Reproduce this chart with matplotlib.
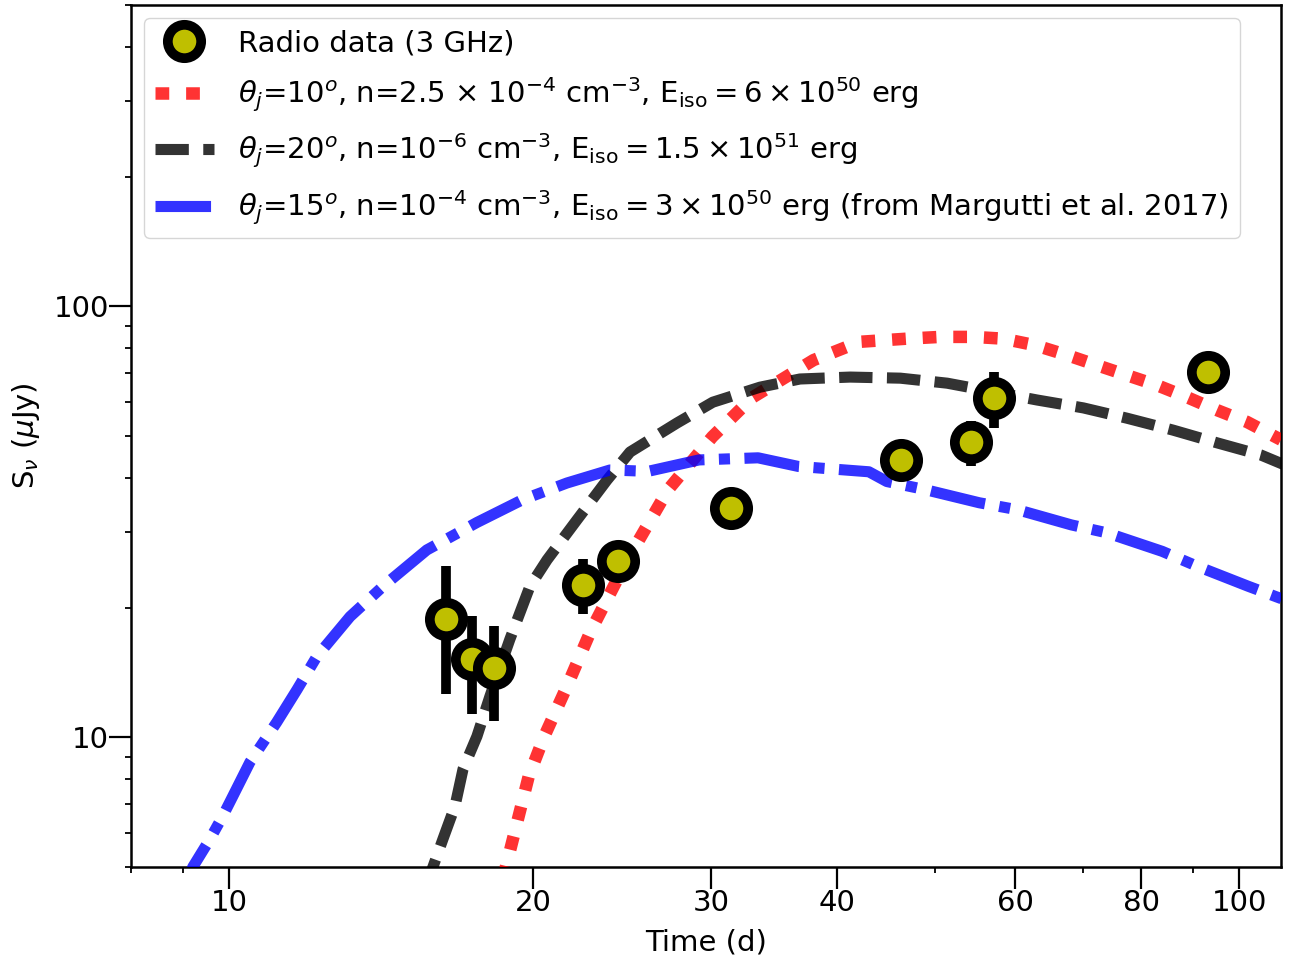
import matplotlib
matplotlib.use("Agg")
import matplotlib.pyplot as plt
from matplotlib.ticker import NullFormatter, FixedLocator, FixedFormatter

# ---------------- data ----------------
t_obs = [16.4, 17.4, 18.3, 22.4, 24.3, 31.4, 46.3, 54.3, 57.2, 93.1]
f_obs = [18.8, 15.2, 14.5, 22.6, 25.7, 34.1, 44.0, 48.4, 61.3, 70.3]
f_err = [6.2, 3.9, 3.6, 3.3, 2.0, 2.5, 3.0, 5.8, 9.0, 4.0]

# theta_j = 10 deg model (red)
t_red = [18.3, 18.8, 19.8, 20.5, 21.6, 22.8, 24.8, 27.2, 30.1, 33.0, 37.9, 42.1,
         46.9, 50.6, 54.6, 58.4, 62.8, 67.6, 72.3, 77.4, 82.9, 88.8, 95.1,
         101.8, 110.0]
f_red = [4.0, 5.0, 8.1, 10.0, 13.1, 17.6, 25.8, 37.5, 49.8, 61.5, 75.0, 82.7,
         84.1, 84.9, 84.9, 84.1, 81.2, 77.0, 73.0, 69.2, 65.6, 61.5, 57.4,
         53.9, 49.0]

# theta_j = 20 deg model (black)
t_blk = [15.6, 15.92, 16.29, 16.74, 17.05, 17.60, 18.13, 18.97, 19.86, 20.65,
         22.11, 23.67, 24.95, 27.77, 30.13, 33.55, 36.75, 41.2, 46.2, 51.4,
         63.1, 70.1, 77.4, 86.0, 95.1, 105.0, 110.5]
f_blk = [4.4, 5.0, 5.81, 6.92, 8.43, 10.05, 12.45, 16.87, 22.4, 25.8,
         31.96, 39.5, 45.9, 53.6, 59.9, 64.9, 67.8, 68.5, 68.1, 66.3,
         60.6, 58.1, 55.0, 51.6, 48.2, 45.2, 43.0]

# theta_j = 15 deg model (blue, Margutti et al. 2017)
t_blu = [9.0, 9.21, 9.58, 9.86, 10.09, 10.49, 11.15, 11.68, 12.22, 13.18,
         14.21, 15.70, 17.60, 19.54, 21.61, 23.84, 26.0, 29.2, 33.4, 36.6,
         43.0, 44.8, 49.0, 55.3, 60.4, 68.2, 74.0, 83.9, 91.0, 102.1, 110.5]
f_blu = [4.3, 5.0, 5.81, 6.56, 7.30, 8.75, 10.83, 12.9, 15.4, 19.05,
         22.4, 27.2, 31.5, 35.6, 38.9, 41.7, 41.4, 44.0, 44.5, 42.5,
         41.3, 39.2, 37.5, 35.0, 33.7, 31.1, 29.8, 27.0, 24.9, 22.4, 20.9]

x_ticks = [10, 20, 30, 40, 60, 80, 100]
x_ticklabels = ["10", "20", "30", "40", "60", "80", "100"]
y_ticks = [10, 100]
y_ticklabels = ["10", "100"]

lab_data = "Radio data (3 GHz)"
lab_red = r"$\theta_j$=10$^o$, n=2.5 $\times$ 10$^{-4}$ cm$^{-3}$, E$_{\rm iso}=6\times10^{50}$ erg"
lab_blk = r"$\theta_j$=20$^o$, n=10$^{-6}$ cm$^{-3}$, E$_{\rm iso}=1.5\times10^{51}$ erg"
lab_blu = r"$\theta_j$=15$^o$, n=10$^{-4}$ cm$^{-3}$, E$_{\rm iso}=3\times10^{50}$ erg (from Margutti et al. 2017)"

# ---------------- figure ----------------
plt.rcParams["font.family"] = ["DejaVu Sans"]
plt.rcParams["mathtext.fontset"] = "dejavusans"
FS = 21

fig = plt.figure(figsize=(12.89, 9.64), dpi=100)
ax = fig.add_axes([131 / 1289, 1 - 867 / 964, (1281 - 131) / 1289, (867 - 5) / 964])

lr, = ax.plot(t_red, f_red, color="r", alpha=0.8, lw=9, dashes=(1.1, 1.35),
              dash_capstyle="butt", label=lab_red, zorder=3)
lk, = ax.plot(t_blk, f_blk, color="k", alpha=0.8, lw=8, dashes=(3.0, 1.3),
              dash_capstyle="butt", label=lab_blk, zorder=3)
lb, = ax.plot(t_blu, f_blu, color="b", alpha=0.8, lw=8, dashes=(5.0, 1.3, 1.0, 1.3),
              dash_capstyle="butt", label=lab_blu, zorder=3)
eb = ax.errorbar(t_obs, f_obs, yerr=f_err, fmt="o", color="k", mfc="y", mec="k",
                 ms=24, mew=7, elinewidth=7, capsize=0, zorder=10, label=lab_data)

ax.set_xscale("log")
ax.set_yscale("log")
ax.set_xlim(8.0, 110.0)
ax.set_ylim(5.0, 500.0)

ax.xaxis.set_major_locator(FixedLocator(x_ticks))
ax.xaxis.set_major_formatter(FixedFormatter(x_ticklabels))
ax.yaxis.set_major_locator(FixedLocator(y_ticks))
ax.yaxis.set_major_formatter(FixedFormatter(y_ticklabels))
ax.xaxis.set_minor_formatter(NullFormatter())
ax.yaxis.set_minor_formatter(NullFormatter())

ax.tick_params(which="major", length=16, width=1.6, labelsize=FS, pad=0)
ax.tick_params(which="minor", length=4.5, width=1.3)
for s in ax.spines.values():
    s.set_linewidth(1.8)

ax.set_xlabel("Time (d)", fontsize=FS, labelpad=8)
ax.set_ylabel(r"S$_\nu$ ($\mu$Jy)", fontsize=FS, labelpad=8)

leg = ax.legend([eb, lr, lk, lb], [lab_data, lab_red, lab_blk, lab_blu],
                loc="upper left", fontsize=FS, handlelength=2.0,
                borderaxespad=0.45, labelspacing=0.62, borderpad=0.38,
                handletextpad=0.85)

fig.savefig("out.png", dpi=100, facecolor="white")
